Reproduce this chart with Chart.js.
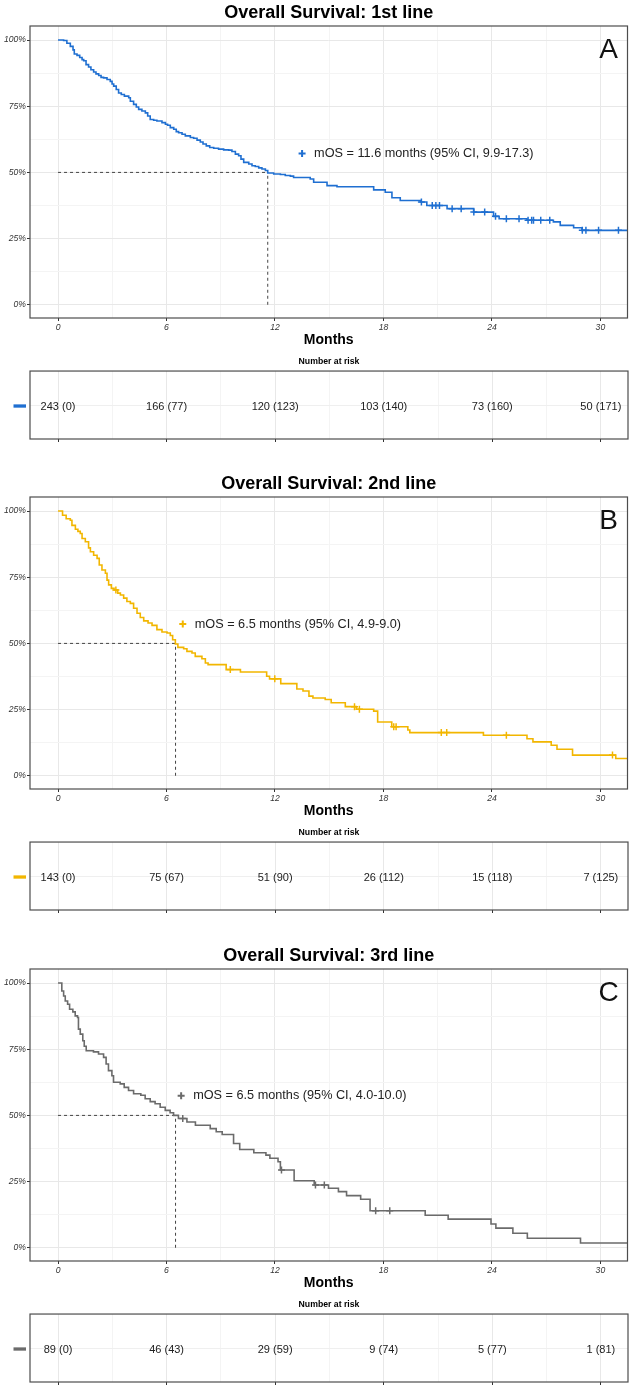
<!DOCTYPE html>
<html>
<head>
<meta charset="utf-8">
<title>Overall Survival</title>
<script src="https://cdn.jsdelivr.net/npm/chart.js@4.4.1/dist/chart.umd.min.js"></script>
<style>
  body { margin: 0; background: #fff; width: 633px; height: 1389px; position: relative; overflow: hidden; }
  .box { position: absolute; left: 0; width: 633px; }
</style>
</head>
<body>
<div class="box" style="top:0px;height:352px"><canvas id="kmA"></canvas></div>
<div class="box" style="top:352px;height:95px"><canvas id="riskA"></canvas></div>
<div class="box" style="top:471px;height:352px"><canvas id="kmB"></canvas></div>
<div class="box" style="top:823px;height:95px"><canvas id="riskB"></canvas></div>
<div class="box" style="top:943px;height:352px"><canvas id="kmC"></canvas></div>
<div class="box" style="top:1295px;height:95px"><canvas id="riskC"></canvas></div>

<script>
// ---- data ----
const months = [0, 6, 12, 18, 24, 30]; // x tick labels and risk table times
const survTicks = [0, 0.25, 0.5, 0.75, 1]; // y tick values

// 1st line: [month, survival] at each drop
const curveA = [
  [0, 1], [0.31, 0.998], [0.49, 0.988], [0.68, 0.976], [0.83, 0.963], [0.9, 0.947],
  [1.05, 0.942], [1.2, 0.934], [1.33, 0.926], [1.42, 0.922], [1.55, 0.907], [1.69, 0.898],
  [1.82, 0.888], [1.97, 0.879], [2.1, 0.872], [2.25, 0.866], [2.38, 0.859], [2.52, 0.857],
  [2.71, 0.851], [2.89, 0.844], [2.99, 0.834], [3.08, 0.826], [3.22, 0.813], [3.35, 0.80],
  [3.5, 0.794], [3.67, 0.788], [3.91, 0.782], [4.0, 0.769], [4.18, 0.757], [4.33, 0.747],
  [4.46, 0.738], [4.64, 0.732], [4.83, 0.725], [4.96, 0.713], [5.1, 0.70], [5.29, 0.697],
  [5.47, 0.694], [5.75, 0.688], [5.94, 0.682], [6.06, 0.678], [6.21, 0.669], [6.4, 0.663],
  [6.54, 0.654], [6.67, 0.65], [6.86, 0.644], [7.04, 0.638], [7.32, 0.632], [7.5, 0.629],
  [7.69, 0.622], [7.87, 0.615], [8.02, 0.607], [8.2, 0.60], [8.39, 0.594], [8.61, 0.591],
  [8.88, 0.588], [9.16, 0.585], [9.44, 0.584], [9.62, 0.579], [9.81, 0.569], [9.99, 0.563],
  [10.12, 0.55], [10.27, 0.538], [10.55, 0.532], [10.73, 0.525], [10.91, 0.522], [11.1, 0.517],
  [11.28, 0.513], [11.47, 0.507], [11.6, 0.498], [11.93, 0.494], [12.3, 0.492], [12.57, 0.488],
  [12.85, 0.486], [13.03, 0.481], [13.95, 0.475], [14.14, 0.463], [14.88, 0.45], [15.43, 0.446],
  [17.46, 0.434], [18.1, 0.425], [18.47, 0.404], [18.93, 0.394], [20.04, 0.388], [20.4, 0.375],
  [21.52, 0.363], [22.99, 0.35], [24.09, 0.334], [24.4, 0.325], [25.94, 0.319], [27.4, 0.313],
  [27.78, 0.30], [28.52, 0.291], [28.98, 0.281], [31.5, 0.281]
];
const censorA = [20.1, 20.7, 20.9, 21.1, 21.8, 22.3, 23.0, 23.6, 24.2, 24.8, 25.5, 26.0, 26.2, 26.3, 26.7, 27.2, 29.0, 29.2, 29.9, 31.0];
const riskA = ['243 (0)', '166 (77)', '120 (123)', '103 (140)', '73 (160)', '50 (171)'];

// 2nd line
const curveB = [
  [0, 1], [0.25, 0.984], [0.45, 0.971], [0.68, 0.965], [0.77, 0.946], [0.96, 0.931],
  [1.1, 0.923], [1.23, 0.915], [1.33, 0.896], [1.51, 0.884], [1.69, 0.861], [1.79, 0.846],
  [1.97, 0.833], [2.16, 0.821], [2.28, 0.796], [2.43, 0.777], [2.62, 0.765], [2.71, 0.739],
  [2.8, 0.721], [2.95, 0.708], [3.1, 0.702], [3.3, 0.69], [3.45, 0.683], [3.63, 0.671],
  [3.81, 0.658], [4.0, 0.651], [4.18, 0.633], [4.37, 0.614], [4.55, 0.598], [4.74, 0.585],
  [4.98, 0.577], [5.2, 0.568], [5.47, 0.552], [5.75, 0.543], [6.03, 0.539], [6.21, 0.53],
  [6.34, 0.514], [6.49, 0.498], [6.63, 0.485], [6.95, 0.48], [7.13, 0.47], [7.41, 0.464],
  [7.59, 0.451], [7.96, 0.442], [8.15, 0.426], [8.3, 0.42], [9.3, 0.401], [10.09, 0.392],
  [11.54, 0.376], [11.7, 0.366], [12.32, 0.348], [13.21, 0.328], [13.55, 0.32], [13.88, 0.301],
  [14.1, 0.294], [14.78, 0.288], [15.11, 0.276], [15.89, 0.261], [16.5, 0.251], [17.46, 0.244],
  [17.68, 0.203], [18.46, 0.185], [19.35, 0.173], [19.46, 0.163], [23.53, 0.153], [25.94, 0.14],
  [26.27, 0.128], [27.28, 0.115], [27.6, 0.10], [28.46, 0.078], [30.85, 0.065], [31.5, 0.065]
];
const censorB = [3.2, 9.53, 11.99, 16.4, 16.67, 18.57, 18.7, 21.2, 21.5, 24.8, 30.67];
const riskB = ['143 (0)', '75 (67)', '51 (90)', '26 (112)', '15 (118)', '7 (125)'];

// 3rd line
const curveC = [
  [0, 1], [0.21, 0.97], [0.31, 0.951], [0.40, 0.932], [0.53, 0.92], [0.64, 0.901],
  [0.82, 0.891], [0.95, 0.876], [1.08, 0.87], [1.13, 0.826], [1.23, 0.807], [1.37, 0.782],
  [1.45, 0.761], [1.56, 0.744], [1.96, 0.74], [2.24, 0.732], [2.52, 0.719], [2.66, 0.694],
  [2.79, 0.669], [2.98, 0.65], [3.07, 0.625], [3.44, 0.619], [3.66, 0.606], [3.9, 0.594],
  [4.18, 0.582], [4.58, 0.576], [4.82, 0.563], [5.1, 0.552], [5.37, 0.544], [5.65, 0.531],
  [5.93, 0.519], [6.2, 0.51], [6.39, 0.50], [6.66, 0.488], [7.13, 0.475], [7.6, 0.463],
  [8.42, 0.45], [8.75, 0.438], [9.08, 0.428], [9.71, 0.394], [10.05, 0.371], [10.83, 0.359],
  [11.5, 0.35], [11.72, 0.338], [12.17, 0.325], [12.3, 0.294], [13.06, 0.253], [14.17, 0.237],
  [14.96, 0.225], [15.51, 0.212], [15.96, 0.197], [16.74, 0.183], [17.26, 0.14], [20.31, 0.123],
  [21.58, 0.108], [23.95, 0.09], [24.22, 0.074], [25.16, 0.055], [25.96, 0.036], [28.9, 0.018],
  [31.5, 0.018]
];
const censorC = [6.9, 12.36, 14.24, 14.73, 17.57, 18.35];
const riskC = ['89 (0)', '46 (43)', '29 (59)', '9 (74)', '5 (77)', '1 (81)'];

const titles = ['Overall Survival: 1st line', 'Overall Survival: 2nd line', 'Overall Survival: 3rd line'];
const medians = [11.6, 6.5, 6.5];
const medianLabels = [
  'mOS = 11.6 months (95% CI, 9.9-17.3)',
  'mOS = 6.5 months (95% CI, 4.9-9.0)',
  'mOS = 6.5 months (95% CI, 4.0-10.0)'
];

// ---- styling ----
const FONT = "'Liberation Sans', Arial, sans-serif";
const X_MIN = -1.55, X_MAX = 31.5;
const Y_MIN = -0.05, Y_MAX = 1.053;

const panels = [
  { key: 'A', color: '#1F6FD1', curve: curveA, censor: censorA, risk: riskA, legendAt: [13.5, 0.571] },
  { key: 'B', color: '#F2B600', curve: curveB, censor: censorB, risk: riskB, legendAt: [6.9, 0.573] },
  { key: 'C', color: '#6B6B6B', curve: curveC, censor: censorC, risk: riskC, legendAt: [6.81, 0.574] }
];

// major ticks plus the minor ones halfway between them (ggplot minor grid)
function withMinor(majors) {
  const out = [];
  majors.forEach((v, i) => {
    out.push(v);
    if (i < majors.length - 1) out.push((v + majors[i + 1]) / 2);
  });
  return out;
}
const xGrid = withMinor(months);
const yGrid = withMinor(survTicks);

// survival value of a step curve at time t
function survAt(curve, t) {
  let s = curve[0][1];
  for (const [x, y] of curve) { if (x <= t) s = y; }
  return s;
}

function gridStyle(majors) {
  return {
    color: c => majors.includes(c.tick.value) ? '#e8e8e8' : '#f4f4f4',
    tickColor: c => majors.includes(c.tick.value) ? '#333' : 'rgba(0,0,0,0)',
    tickLength: 3,
    lineWidth: 1
  };
}

// panel frame, corner letter and the median legend
const overlay = {
  id: 'overlay',
  afterDatasetsDraw(chart, args, opts) {
    const { ctx, chartArea: a, scales: { x, y } } = chart;
    ctx.save();
    ctx.strokeStyle = '#4d4d4d';
    ctx.lineWidth = 1.2;
    ctx.strokeRect(a.left, a.top, a.width, a.height);

    if (opts.letter) {
      ctx.fillStyle = '#111';
      ctx.font = '28px ' + FONT;
      ctx.textAlign = 'center';
      ctx.textBaseline = 'alphabetic';
      ctx.fillText(opts.letter, a.right - 19, a.top + 32);
    }
    if (opts.label) {
      const px = x.getPixelForValue(opts.at[0]);
      const py = y.getPixelForValue(opts.at[1]);
      ctx.strokeStyle = opts.color;
      ctx.lineWidth = 2;
      ctx.beginPath();
      ctx.moveTo(px - 3.5, py); ctx.lineTo(px + 3.5, py);
      ctx.moveTo(px, py - 3.5); ctx.lineTo(px, py + 3.5);
      ctx.stroke();
      ctx.fillStyle = '#222';
      ctx.font = '12.7px ' + FONT;
      ctx.textAlign = 'left';
      ctx.textBaseline = 'middle';
      ctx.fillText(opts.label, px + 12, py);
    }
    ctx.restore();
  }
};

// risk table numbers and the coloured strip on the left
const riskText = {
  id: 'riskText',
  afterDatasetsDraw(chart, args, opts) {
    const { ctx, chartArea: a, scales: { x, y } } = chart;
    ctx.save();
    ctx.strokeStyle = '#4d4d4d';
    ctx.lineWidth = 1.2;
    ctx.strokeRect(a.left, a.top, a.width, a.height);

    const rowY = y.getPixelForValue(1);
    ctx.strokeStyle = opts.color;
    ctx.lineWidth = 3.3;
    ctx.beginPath();
    ctx.moveTo(13.5, rowY + 1); ctx.lineTo(26, rowY + 1);
    ctx.stroke();

    ctx.fillStyle = '#222';
    ctx.font = '11px ' + FONT;
    ctx.textAlign = 'center';
    ctx.textBaseline = 'middle';
    opts.values.forEach((txt, i) => {
      ctx.fillText(txt, x.getPixelForValue(months[i]), rowY + 1.5);
    });
    ctx.restore();
  }
};

function kmChart(p, i) {
  const dashed = { borderColor: '#444', borderWidth: 1, borderDash: [3, 3], pointRadius: 0, fill: false };
  return new Chart(document.getElementById('km' + p.key), {
    type: 'line',
    data: {
      datasets: [
        { // KM curve
          data: p.curve.map(([x, y]) => ({ x, y })),
          borderColor: p.color, borderWidth: 1.6, stepped: 'before', pointRadius: 0, fill: false
        },
        { // censor marks
          data: p.censor.map(t => ({ x: t, y: survAt(p.curve, t) })),
          showLine: false, pointStyle: 'cross', pointRadius: 3.5, borderColor: p.color, borderWidth: 1.5
        },
        { ...dashed, data: [{ x: 0, y: 0.5 }, { x: medians[i], y: 0.5 }] },
        { ...dashed, data: [{ x: medians[i], y: 0 }, { x: medians[i], y: 0.5 }] }
      ]
    },
    options: {
      responsive: true,
      maintainAspectRatio: false,
      animation: false,
      layout: { padding: { left: 0, right: 5, top: 0, bottom: 3.6 } },
      plugins: {
        legend: { display: false },
        tooltip: { enabled: false },
        title: {
          display: true, text: titles[i], fullSize: false, color: '#000',
          font: { family: FONT, size: 18, weight: 'bold' }, padding: { top: 2.2, bottom: 2.2 }
        },
        overlay: { letter: p.key, label: medianLabels[i], at: p.legendAt, color: p.color }
      },
      scales: {
        x: {
          type: 'linear', min: X_MIN, max: X_MAX,
          afterBuildTicks: s => { s.ticks = xGrid.map(v => ({ value: v })); },
          afterFit: s => { s.height = 30.4; },
          border: { display: false },
          grid: gridStyle(months),
          ticks: {
            autoSkip: false, maxRotation: 0, padding: 1, color: '#333',
            font: { family: FONT, size: 8.6, style: 'italic' },
            callback: v => months.includes(v) ? String(v) : ''
          },
          title: {
            display: true, text: 'Months', color: '#000', padding: 0,
            font: { family: FONT, size: 14, weight: 'bold' }
          }
        },
        y: {
          min: Y_MIN, max: Y_MAX,
          afterBuildTicks: s => { s.ticks = yGrid.map(v => ({ value: v })); },
          afterFit: s => { s.width = 30; },
          border: { display: false },
          grid: gridStyle(survTicks),
          ticks: {
            autoSkip: false, padding: 1, color: '#333',
            font: { family: FONT, size: 8.6, style: 'italic' },
            callback: v => survTicks.includes(v) ? Math.round(v * 100) + '%' : ''
          }
        }
      }
    },
    plugins: [overlay]
  });
}

function riskChart(p) {
  return new Chart(document.getElementById('risk' + p.key), {
    type: 'scatter',
    data: { datasets: [{ data: months.map(m => ({ x: m, y: 1 })), pointRadius: 0 }] },
    options: {
      responsive: true,
      maintainAspectRatio: false,
      animation: false,
      layout: { padding: { left: 0, right: 5, top: 0, bottom: 0 } },
      plugins: {
        legend: { display: false },
        tooltip: { enabled: false },
        title: {
          display: true, text: 'Number at risk', fullSize: false, color: '#000',
          font: { family: FONT, size: 8.7, weight: 'bold' }, padding: { top: 4.8, bottom: 3.8 }
        },
        riskText: { values: p.risk, color: p.color }
      },
      scales: {
        x: {
          type: 'linear', min: X_MIN, max: X_MAX,
          afterBuildTicks: s => { s.ticks = xGrid.map(v => ({ value: v })); },
          afterFit: s => { s.height = 8; },
          border: { display: false },
          grid: gridStyle(months),
          ticks: { display: false }
        },
        y: {
          min: 0, max: 2,
          afterBuildTicks: s => { s.ticks = [{ value: 1 }]; },
          afterFit: s => { s.width = 30; },
          border: { display: false },
          grid: { color: '#efefef', drawTicks: false },
          ticks: { display: false }
        }
      }
    },
    plugins: [riskText]
  });
}

panels.forEach((p, i) => {
  kmChart(p, i);
  riskChart(p);
});
</script>
</body>
</html>
